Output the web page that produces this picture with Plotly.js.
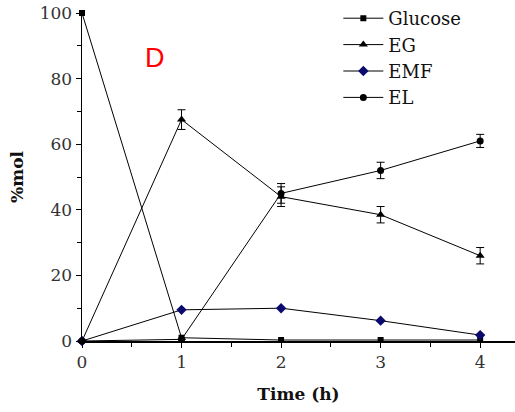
<!DOCTYPE html>
<html>
<head>
<meta charset="utf-8">
<script src="https://cdn.plot.ly/plotly-3.0.1.min.js"></script>
<style>html,body{margin:0;padding:0;background:#fff;}#chart{width:515px;height:412px;}</style>
</head>
<body>
<div id="chart"></div>
<script>
const time = [0, 1, 2, 3, 4];
const glucose = [100, 1, 0.3, 0.3, 0.3];
const eg = [0, 67.5, 44, 38.5, 26];
const egErr = [0, 3, 3, 2.5, 2.5];
const emf = [0, 9.5, 10, 6.2, 1.8];
const el = [0, 0.5, 45, 52, 61];
const elErr = [0, 0, 3, 2.5, 2];
const xTicks = [0, 1, 2, 3, 4];
const yTicks = [0, 20, 40, 60, 80, 100];

const serif = 'DejaVu Serif, serif';
const line = {color: '#000', width: 1};

const traces = [
  {name: 'Glucose', x: time, y: glucose, mode: 'lines+markers', line: line,
   marker: {symbol: 'square', size: 6, color: '#000'}, cliponaxis: false},
  {name: 'EG', x: time, y: eg, mode: 'lines+markers', line: line,
   marker: {symbol: 'triangle-up', size: 8, color: '#000'}, cliponaxis: false,
   error_y: {type: 'data', array: egErr, visible: true, color: '#000', thickness: 1, width: 4}},
  {name: 'EMF', x: time, y: emf, mode: 'lines+markers', line: line,
   marker: {symbol: 'diamond', size: 8, color: '#0a0a6e'}, cliponaxis: false},
  {name: 'EL', x: time, y: el, mode: 'lines+markers', line: line,
   marker: {symbol: 'circle', size: 7, color: '#000'}, cliponaxis: false,
   error_y: {type: 'data', array: elErr, visible: true, color: '#000', thickness: 1, width: 4}}
];

const layout = {
  width: 515, height: 412,
  margin: {l: 82, r: 0, t: 13, b: 71},
  paper_bgcolor: '#fff', plot_bgcolor: '#fff',
  showlegend: true,
  legend: {x: 0.592, xanchor: 'left', y: 1.041, yanchor: 'top',
           font: {family: serif, size: 18, color: '#111'}, bgcolor: 'rgba(0,0,0,0)',
           itemwidth: 40, tracegroupgap: 0},
  xaxis: {range: [0, 4.35], tickvals: xTicks, ticktext: xTicks.map(String),
          showgrid: false, zeroline: false, showline: true, linecolor: '#000', linewidth: 1.5,
          ticks: 'outside', ticklen: 5, tickcolor: '#000', tickwidth: 1,
          minor: {dtick: 0.5, ticks: 'outside', ticklen: 4, tickcolor: '#000'},
          tickfont: {family: serif, size: 17, color: '#333'},
          title: {text: '<b>Time (h)</b>', font: {family: serif, size: 17, color: '#111'}, standoff: 17}},
  yaxis: {range: [0, 100], tickvals: yTicks, ticktext: yTicks.map(String),
          showgrid: false, zeroline: false, showline: true, linecolor: '#000', linewidth: 1.5,
          ticks: 'outside', ticklen: 5, tickcolor: '#000', tickwidth: 1,
          minor: {dtick: 10, ticks: 'outside', ticklen: 4, tickcolor: '#000'},
          tickfont: {family: serif, size: 17, color: '#333'},
          title: {text: '<b>%mol</b>', font: {family: serif, size: 17, color: '#111'}, standoff: 11}},
  annotations: [
    {text: 'D', xref: 'paper', yref: 'paper', x: (155 - 82) / 433, y: (341 - 58) / 328,
     xanchor: 'center', yanchor: 'middle',
     showarrow: false, font: {family: 'Liberation Sans, Arial, sans-serif', size: 27, color: '#ff0000'}}
  ]
};

Plotly.newPlot('chart', traces, layout, {displayModeBar: false, staticPlot: true});
</script>
</body>
</html>
